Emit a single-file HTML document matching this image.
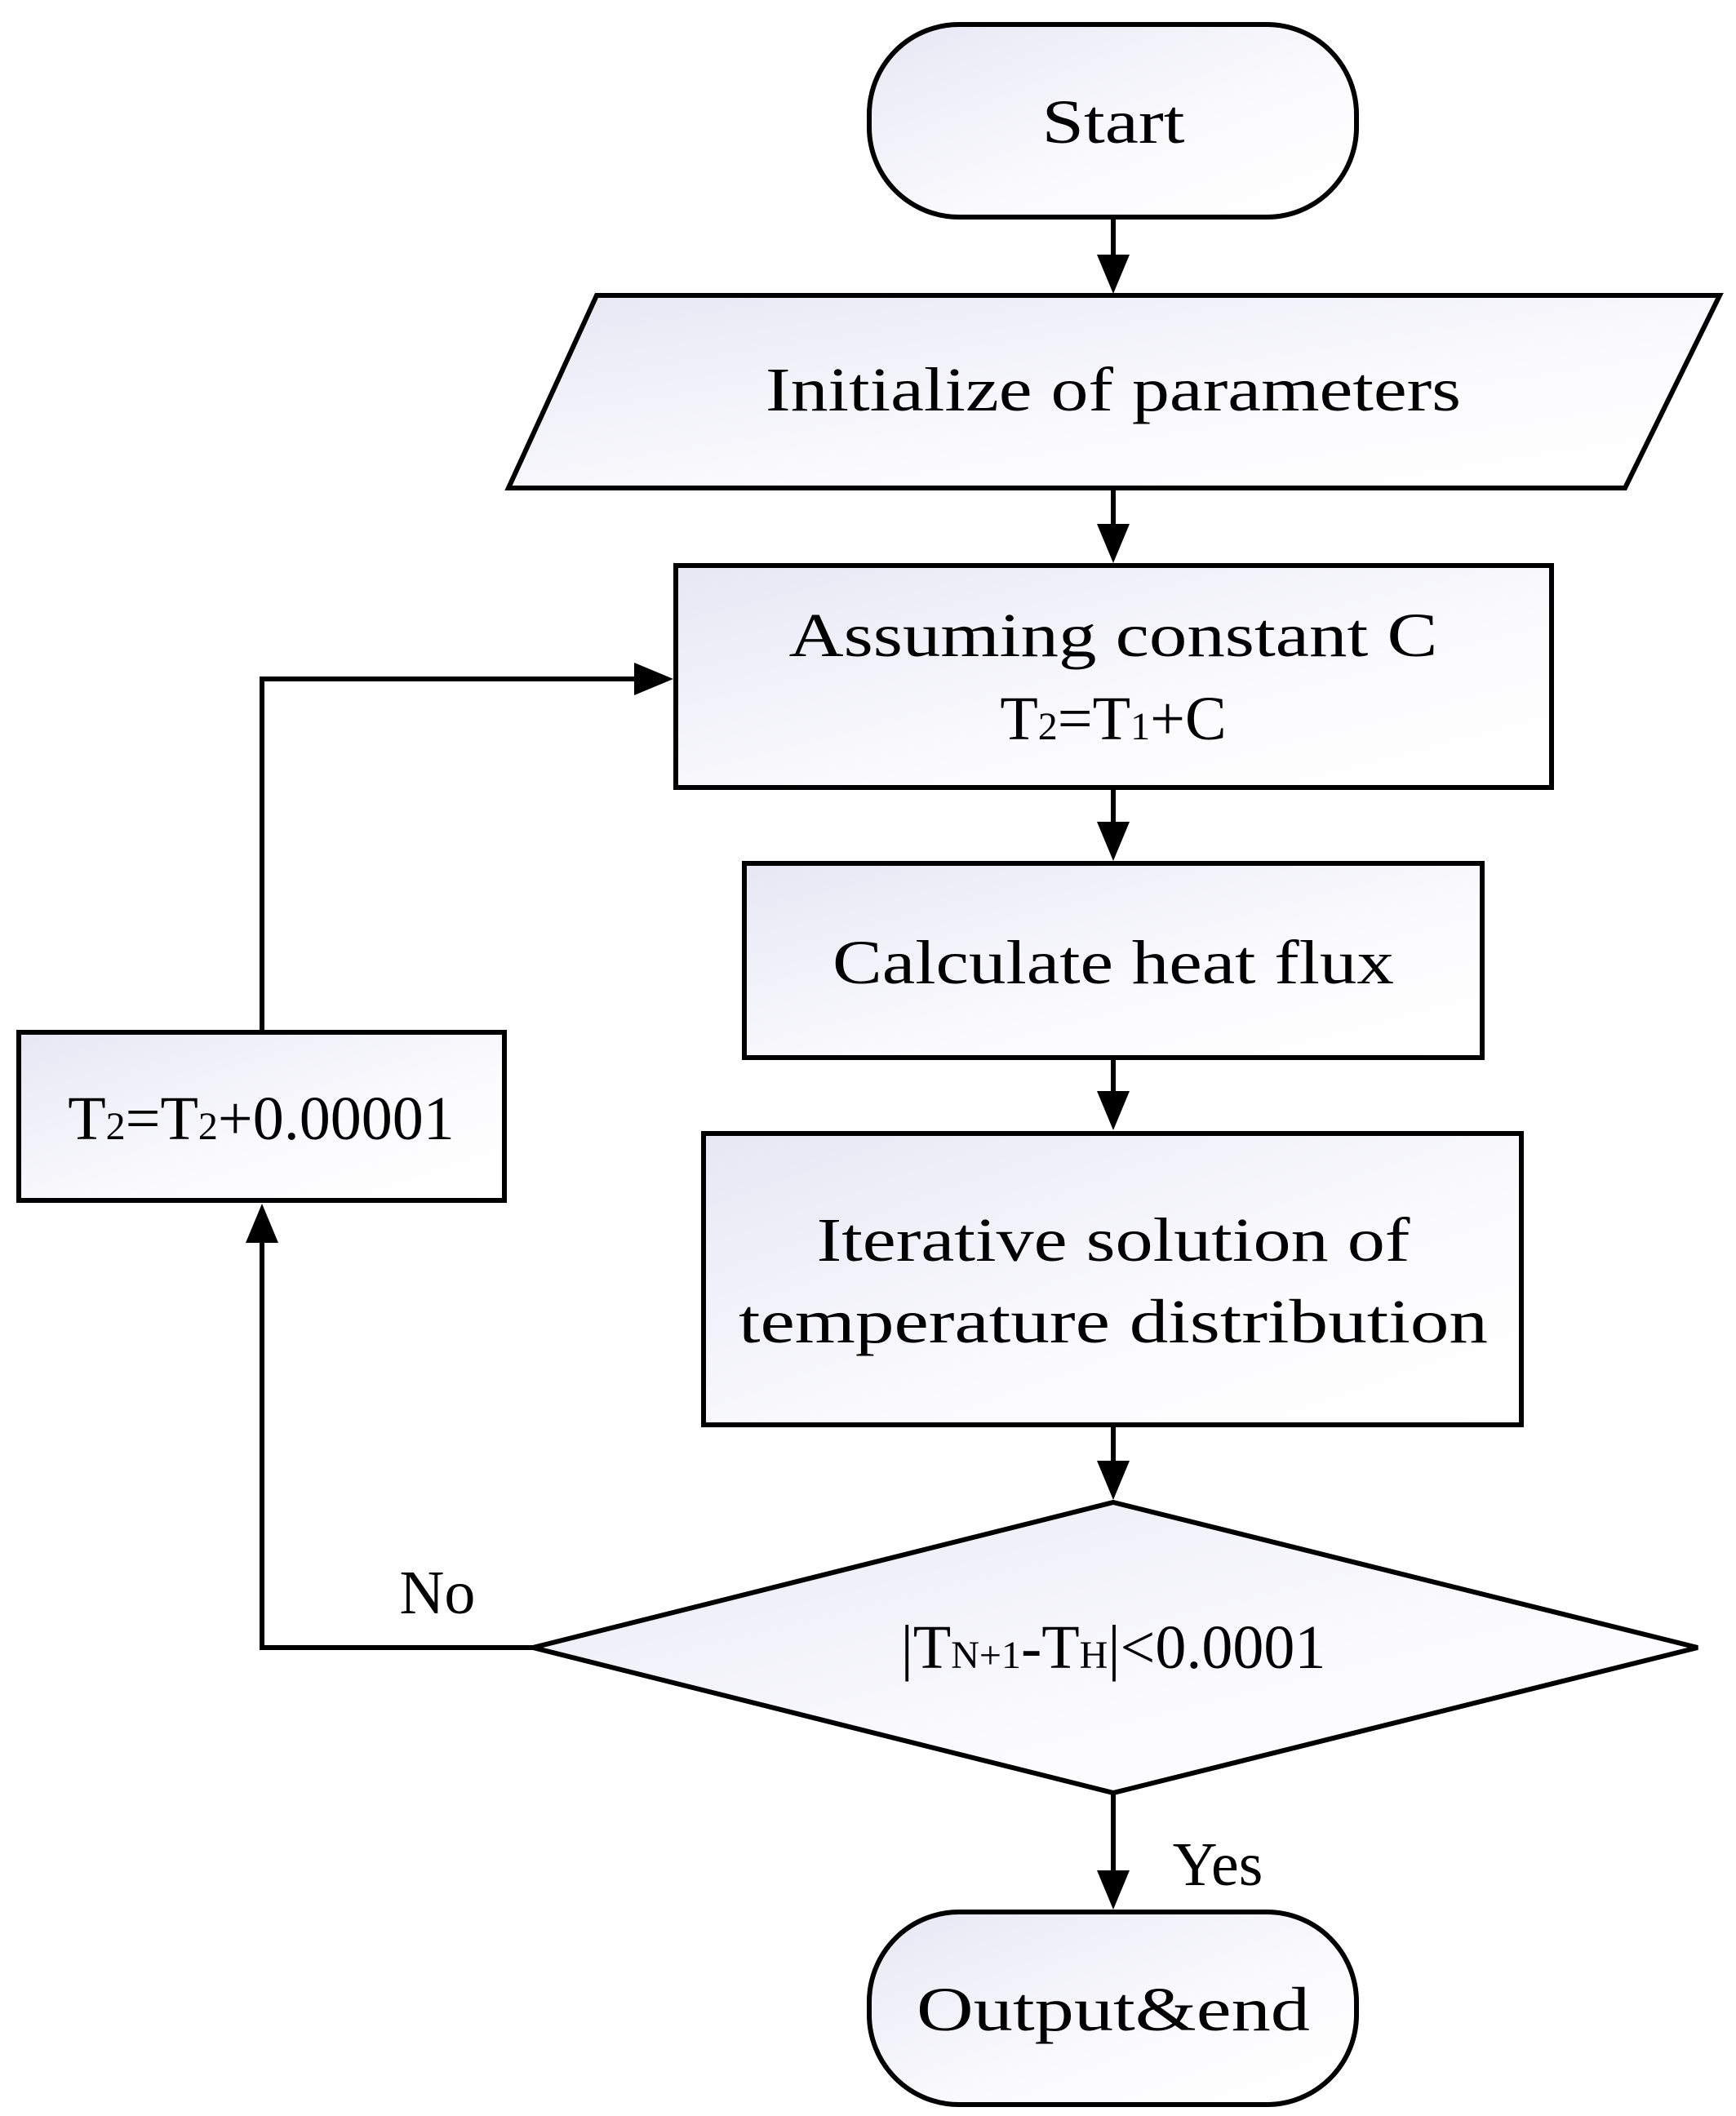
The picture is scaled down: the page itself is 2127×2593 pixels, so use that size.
<!DOCTYPE html>
<html><head><meta charset="utf-8"><style>html,body{margin:0;padding:0;background:#fff}svg{display:block}</style></head><body>
<svg width="2127" height="2593" viewBox="0 0 2127 2593" xmlns="http://www.w3.org/2000/svg" font-family="Liberation Serif, serif" font-size="76" text-anchor="middle">
<defs>
<linearGradient id="g" x1="0" y1="0" x2="1" y2="1"><stop offset="0" stop-color="#e6e7f4"/><stop offset="0.6" stop-color="#fbfbfe"/><stop offset="1" stop-color="#ffffff"/></linearGradient>
</defs>
<g stroke="#000" stroke-width="6" fill="url(#g)">
<rect x="1065" y="30" width="597" height="236" rx="110" ry="110"/>
<polygon points="731,362 2107,362 1991,598 623,598"/>
<rect x="828" y="693" width="1073" height="272"/>
<rect x="912" y="1058" width="904" height="238"/>
<rect x="862" y="1389" width="1002" height="357"/>
<polygon points="1364,1841 2080,2019 1364,2197 653,2019"/>
<rect x="1065" y="2343" width="597" height="236" rx="110" ry="110"/>
<rect x="23" y="1265" width="595" height="206"/>
</g>
<g stroke="#000" stroke-width="6" fill="none">
<line x1="1364" y1="266" x2="1364" y2="315"/>
<line x1="1364" y1="598" x2="1364" y2="645"/>
<line x1="1364" y1="965" x2="1364" y2="1010"/>
<line x1="1364" y1="1296" x2="1364" y2="1340"/>
<line x1="1364" y1="1746" x2="1364" y2="1793"/>
<line x1="1364" y1="2197" x2="1364" y2="2295"/>
<polyline points="653,2019 321,2019 321,1520"/>
<polyline points="321,1265 321,832 780,832"/>
</g>
<g fill="#000">
<polygon points="1344,312 1384,312 1364,360"/>
<polygon points="1344,642 1384,642 1364,690"/>
<polygon points="1344,1007 1384,1007 1364,1055"/>
<polygon points="1344,1337 1384,1337 1364,1385"/>
<polygon points="1344,1790 1384,1790 1364,1838"/>
<polygon points="1344,2292 1384,2292 1364,2340"/>
<polygon points="301,1523 341,1523 321,1475"/>
<polygon points="777,812 777,852 825,832"/>
</g>
<g fill="#000">
<text x="1364" y="175" textLength="175" lengthAdjust="spacingAndGlyphs">Start</text>
<text x="1364" y="503" textLength="852" lengthAdjust="spacingAndGlyphs">Initialize of parameters</text>
<text x="1364" y="804" textLength="795" lengthAdjust="spacingAndGlyphs">Assuming constant C</text>
<text x="1364" y="906">T<tspan font-size="48">2</tspan>=T<tspan font-size="48">1</tspan>+C</text>
<text x="1364" y="1205" textLength="688" lengthAdjust="spacingAndGlyphs">Calculate heat flux</text>
<text x="1364" y="1545" textLength="727" lengthAdjust="spacingAndGlyphs">Iterative solution of</text>
<text x="1364" y="1645" textLength="918" lengthAdjust="spacingAndGlyphs">temperature distribution</text>
<text x="1364" y="2044">|T<tspan font-size="48">N+1</tspan>-T<tspan font-size="48">H</tspan>|&lt;0.0001</text>
<text x="320" y="1396">T<tspan font-size="48">2</tspan>=T<tspan font-size="48">2</tspan>+0.00001</text>
<text x="536" y="1977">No</text>
<text x="1492" y="2310">Yes</text>
<text x="1364" y="2488" textLength="482" lengthAdjust="spacingAndGlyphs">Output&amp;end</text>
</g>
</svg>
</body></html>
